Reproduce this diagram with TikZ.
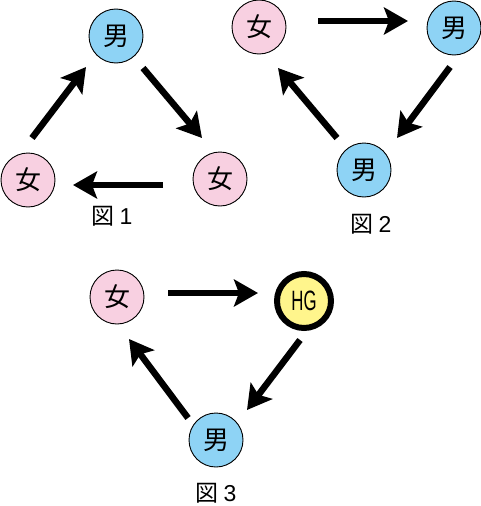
\documentclass[tikz,border=0pt]{standalone}
\usepackage{fontspec}
\setmainfont{Noto Sans CJK JP}
\newfontfamily\hgfont{Liberation Sans}
\usetikzlibrary{arrows.meta}
\definecolor{boy}{RGB}{142,211,245}
\definecolor{girl}{RGB}{248,208,225}
\definecolor{hg}{RGB}{255,245,140}
\tikzset{
  person/.style={circle,draw=black,line width=0.9pt,minimum size=54pt,inner sep=0pt,font=\fontsize{26}{26}\selectfont},
  boynode/.style={person,fill=boy},
  girlnode/.style={person,fill=girl},
  hgnode/.style={person,fill=hg,line width=6pt,font=\hgfont\fontsize{28}{28}\selectfont},
  conn/.style={line width=6.5pt,-{Stealth[length=24pt,width=27pt,inset=5pt]}},
  caption/.style={font=\fontsize{23}{23}\selectfont,inner sep=0pt}
}
\begin{document}
\begin{tikzpicture}[x=1pt,y=-1pt]
\useasboundingbox (0,0) rectangle (481,506);
% Figure 1
\node[boynode] (m1) at (116,36) {男};
\node[girlnode] (f1l) at (28,180) {女};
\node[girlnode] (f1r) at (220,179) {女};
\node[caption] (c1) at (112,216) {図 {\hgfont 1}};
\draw[conn] ([shift={(4,-42)}]f1l.center) -- ([shift={(-30,31)}]m1.center);
\draw[conn] ([shift={(27,32)}]m1.center) -- ([shift={(-18,-41)}]f1r.center);
\draw[conn] ([shift={(-57,6)}]f1r.center) -- ([shift={(45,5)}]f1l.center);
% Figure 2
\node[girlnode] (f2) at (259,27) {女};
\node[boynode] (m2a) at (454,28) {男};
\node[boynode] (m2b) at (364,170) {男};
\node[caption] (c2) at (371,224) {図 {\hgfont 2}};
\draw[conn] ([shift={(59,-6)}]f2.center) -- ([shift={(-46,-7)}]m2a.center);
\draw[conn] ([shift={(-4,39)}]m2a.center) -- ([shift={(33,-32)}]m2b.center);
\draw[conn] ([shift={(-27,-32)}]m2b.center) -- ([shift={(19,41)}]f2.center);
% Figure 3
\node[girlnode] (f3) at (117,297) {女};
\node[hgnode] (h3) at (304,301) {\scalebox{0.6}[1]{HG}};
\node[boynode] (m3) at (216,440) {男};
\node[caption] (c3) at (216,493) {図 {\hgfont 3}};
\draw[conn] ([shift={(51,-4)}]f3.center) -- ([shift={(-46,-8)}]h3.center);
\draw[conn] ([shift={(-4,39)}]h3.center) -- ([shift={(31,-30)}]m3.center);
\draw[conn] ([shift={(-28,-22)}]m3.center) -- ([shift={(12,42)}]f3.center);
\end{tikzpicture}
\end{document}
